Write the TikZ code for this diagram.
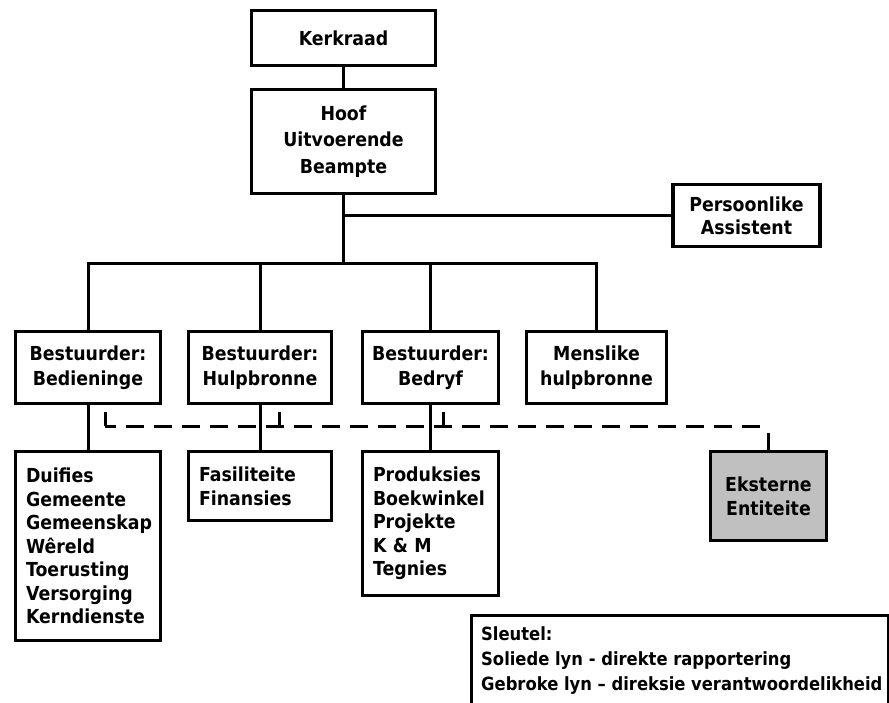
\documentclass[tikz,border=0pt]{standalone}
\usepackage{fontspec}
\setmainfont{DejaVu Sans}[FakeStretch=0.9]
\definecolor{extgray}{HTML}{C0C0C0}
\begin{document}
\begin{tikzpicture}[x=1pt,y=-1pt,
  box/.style={draw, line width=3.2pt, rectangle, inner sep=0pt, align=center, font=\fontsize{19.3}{24}\selectfont\bfseries},
  listbox/.style={box, align=left, inner xsep=10.5pt, inner ysep=0pt},
  conn/.style={line width=3pt},
  thinconn/.style={line width=2.5pt},
  dashline/.style={line width=3pt, dash pattern=on 18pt off 10pt, dash phase=7pt}]
\useasboundingbox (0,0) rectangle (889,702);
\clip (0,0) rectangle (889,702);
\fill[white] (0,0) rectangle (889,702);

% top
\node[box, minimum width=184pt, minimum height=55pt] (kerk) at (343.5,38) {Kerkraad};
\node[box, minimum width=184pt, minimum height=104pt, font=\fontsize{19.3}{26.5}\selectfont\bfseries] (hoof) at (343.5,141.5) {Hoof\\Uitvoerende\\Beampte};
\node[box, line width=3.5pt, minimum width=147pt, minimum height=62pt, font=\fontsize{19.3}{23}\selectfont\bfseries] (pa) at (746.5,215.5) {Persoonlike\\Assistent};

% managers
\node[box, minimum width=145pt, minimum height=72pt, font=\fontsize{19.3}{25}\selectfont\bfseries] (b1) at (88,367.5) {Bestuurder:\\Bedieninge};
\node[box, minimum width=143pt, minimum height=72pt, font=\fontsize{19.3}{25}\selectfont\bfseries] (b2) at (260,367.5) {Bestuurder:\\Hulpbronne};
\node[box, minimum width=136pt, minimum height=72pt, font=\fontsize{19.3}{25}\selectfont\bfseries] (b3) at (430.5,367.5) {Bestuurder:\\Bedryf};
\node[box, minimum width=140pt, minimum height=72pt, font=\fontsize{19.3}{25}\selectfont\bfseries] (b4) at (596.5,367.5) {Menslike\\hulpbronne};

% lists
\node[listbox, minimum width=145pt, minimum height=189pt, text width=124pt, font=\fontsize{19.3}{23.5}\selectfont\bfseries] (c1) at (88,546) {Duifies\\Gemeente\\Gemeenskap\\Wêreld\\Toerusting\\Versorging\\Kerndienste};
\node[listbox, minimum width=143pt, minimum height=69pt, text width=122pt, font=\fontsize{19.3}{24}\selectfont\bfseries] (c2) at (260,486) {Fasiliteite\\Finansies};
\node[listbox, minimum width=136pt, minimum height=144pt, text width=115pt, font=\fontsize{19.3}{23.5}\selectfont\bfseries] (c3) at (430.5,523.5) {Produksies\\Boekwinkel\\Projekte\\K \& M\\Tegnies};

% external
\node[box, fill=extgray, minimum width=116pt, minimum height=89pt] (ext) at (768.5,496) {Eksterne\\Entiteite};

% key
\node[draw, line width=3.2pt, anchor=north west, minimum width=417pt, minimum height=110pt, inner sep=0pt] (key) at (469.5,613.5) {};
\node[anchor=north west, align=left, inner sep=0pt, font=\fontsize{18.2}{25}\selectfont\bfseries] (keytext) at (481,626) {Sleutel:\\Soliede lyn - direkte rapportering\\Gebroke lyn – direksie verantwoordelikheid};

% solid connectors
\coordinate (bus) at (343.5,263);
\draw[conn] (kerk.south) -- (hoof.north);
\draw[conn] (hoof.south) -- (bus);
\draw[thinconn] (hoof.south |- pa.west) -- (pa.west);
\draw[conn] (b1.north) |- (bus) -| (b4.north);
\draw[conn] (b2.north) -- (b2.north |- bus);
\draw[conn] (b3.north) -- (b3.north |- bus);
\draw[conn] (b1.south) -- (c1.north);
\draw[conn] (b2.south) -- (c2.north);
\draw[conn] (b3.south) -- (c3.north);

% dashed responsibility line
\coordinate (dl) at (0,426);
\coordinate (t1) at (105,412);
\coordinate (t2) at (279,412);
\coordinate (t3) at (443,412);
\coordinate (dend) at (765,426);
\coordinate (es) at (768.5,433);
\draw[conn] (t1) -- (t1 |- dl);
\draw[conn] (t2) -- (t2 |- dl);
\draw[conn] (t3) -- (t3 |- dl);
\draw[dashline] (t1 |- dl) -- (dend);
\draw[conn] (ext.north) -- (es);
\end{tikzpicture}
\end{document}
